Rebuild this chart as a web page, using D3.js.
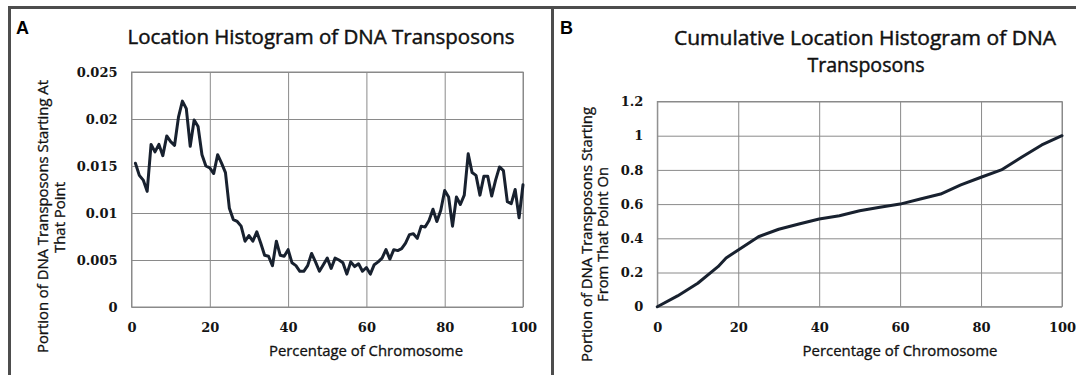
<!DOCTYPE html>
<html>
<head>
<meta charset="utf-8">
<script src="https://cdn.jsdelivr.net/npm/d3@7"></script>
<style>
  html, body { margin: 0; padding: 0; background: #fff; }
  svg { display: block; }
  .tick text { font-family: "DejaVu Serif", serif; font-weight: bold; font-size: 13px; fill: #141414; }
  .tick line { stroke: #8a8a8a; stroke-width: 1; }
  .title, .axis-title { font-family: "Open Sans", Lato, sans-serif; fill: #111; stroke: #111; }
  .title { stroke-width: 0.45; }
  .axis-title { stroke-width: 0.3; }
  .panel-label { font-family: "Liberation Sans", Arial, sans-serif; font-weight: bold; font-size: 18px; fill: #000; }
</style>
</head>
<body>
<svg id="chart" width="1076" height="375"></svg>
<script>
// panel A: portion of DNA transposons starting at each percent of the chromosome
const positionA = d3.range( 1, 101 )
const portionA = [
  0.0153, 0.0140, 0.0135, 0.0123, 0.0173, 0.0165, 0.0173, 0.0161, 0.0182, 0.0176,
  0.0172, 0.0202, 0.0219, 0.0211, 0.0171, 0.0199, 0.0192, 0.0162, 0.0150, 0.0148,
  0.0142, 0.0162, 0.0153, 0.0143, 0.0105, 0.0093, 0.0091, 0.0086, 0.0070, 0.0076,
  0.0070, 0.0080, 0.0068, 0.0055, 0.0054, 0.0044, 0.0070, 0.0055, 0.0054, 0.0061,
  0.0047, 0.0044, 0.0038, 0.0038, 0.0044, 0.0057, 0.0048, 0.0038, 0.0045, 0.0052,
  0.0041, 0.0052, 0.0050, 0.0047, 0.0035, 0.0048, 0.0043, 0.0046, 0.0038, 0.0042,
  0.0035, 0.0045, 0.0048, 0.0052, 0.0061, 0.0051, 0.0061, 0.0060, 0.0062, 0.0068,
  0.0077, 0.0078, 0.0073, 0.0086, 0.0085, 0.0092, 0.0104, 0.0091, 0.0103, 0.0124,
  0.0117, 0.0086, 0.0117, 0.0109, 0.0119, 0.0163, 0.0143, 0.0140, 0.0119, 0.0139,
  0.0139, 0.0118, 0.0135, 0.0149, 0.0145, 0.0112, 0.0110, 0.0125, 0.0095, 0.0130
]

// panel B: cumulative portion
const positionB = [ 0, 5, 10, 15, 17, 20, 25, 30, 35, 40, 45, 50, 55, 60, 65, 70, 75, 80, 85, 90, 95, 100 ]
const cumulativeB = [ 0, 0.063, 0.137, 0.234, 0.285, 0.332, 0.409, 0.453, 0.484, 0.513, 0.532,
  0.561, 0.581, 0.600, 0.630, 0.659, 0.712, 0.757, 0.800, 0.874, 0.946, 1.0 ]

const ticksX = [ 0, 20, 40, 60, 80, 100 ]
const ticksYA = [ 0, 0.005, 0.01, 0.015, 0.02, 0.025 ]
const ticksYB = [ 0, 0.2, 0.4, 0.6, 0.8, 1, 1.2 ]

const svg = d3.select( '#chart' )
const fmt = d3.format( '~g' )

svg.append( 'rect' ).attr( 'width', 1076 ).attr( 'height', 375 ).attr( 'fill', '#fff' )

function drawPanel( p ) {
    const x = d3.scaleLinear().domain( [ 0, 100 ] ).range( [ p.left, p.right ] ),
          y = d3.scaleLinear().domain( p.yDomain ).range( [ p.bottom, p.top ] ),
          w = p.right - p.left,
          h = p.bottom - p.top

    svg.append( 'g' )
        .attr( 'transform', `translate(0,${p.bottom})` )
        .call( d3.axisBottom( x ).tickValues( ticksX ).tickSize( -h ).tickPadding( 16 ).tickFormat( fmt ) )
        .call( g => g.select( '.domain' ).remove() )

    svg.append( 'g' )
        .attr( 'transform', `translate(${p.left},0)` )
        .call( d3.axisLeft( y ).tickValues( p.yTicks ).tickSize( -w ).tickPadding( 14 ).tickFormat( fmt ) )
        .call( g => g.select( '.domain' ).remove() )

    svg.append( 'rect' )
        .attr( 'x', p.left ).attr( 'y', p.top )
        .attr( 'width', w ).attr( 'height', h )
        .attr( 'fill', 'none' ).attr( 'stroke', '#8a8a8a' )

    svg.append( 'path' )
        .datum( p.xs.map( ( d, i ) => [ d, p.ys[i] ] ) )
        .attr( 'd', d3.line().x( d => x( d[0] ) ).y( d => y( d[1] ) ) )
        .attr( 'fill', 'none' )
        .attr( 'stroke', '#18212f' )
        .attr( 'stroke-width', 3 )
        .attr( 'stroke-linejoin', 'round' )
        .attr( 'stroke-linecap', 'round' )

    p.title.forEach( t =>
        svg.append( 'text' ).attr( 'class', 'title' )
            .attr( 'x', t.cx - t.len / 2 ).attr( 'y', t.y )
            .attr( 'font-size', 19.5 )
            .attr( 'textLength', t.len ).attr( 'lengthAdjust', 'spacingAndGlyphs' )
            .text( t.text ) )

    svg.append( 'text' ).attr( 'class', 'axis-title' )
        .attr( 'x', p.xTitle.cx - p.xTitle.len / 2 ).attr( 'y', 356 )
        .attr( 'font-size', 14 )
        .attr( 'textLength', p.xTitle.len ).attr( 'lengthAdjust', 'spacingAndGlyphs' )
        .text( 'Percentage of Chromosome' )

    p.yTitle.forEach( t =>
        svg.append( 'text' ).attr( 'class', 'axis-title' )
            .attr( 'transform', `translate(${t.x},${t.cy + t.len / 2}) rotate(-90)` )
            .attr( 'font-size', 14 )
            .attr( 'textLength', t.len ).attr( 'lengthAdjust', 'spacingAndGlyphs' )
            .text( t.text ) )

    svg.append( 'text' ).attr( 'class', 'panel-label' )
        .attr( 'x', p.label.x ).attr( 'y', 33.5 )
        .text( p.label.text )
}

drawPanel( {
    left: 131.5, right: 523, top: 72, bottom: 307,
    yDomain: [ 0, 0.025 ], yTicks: ticksYA,
    xs: positionA, ys: portionA,
    title: [ { text: 'Location Histogram of DNA Transposons', cx: 321, len: 387, y: 44 } ],
    xTitle: { cx: 366, len: 194 },
    yTitle: [
        { text: 'Portion of DNA Transposons Starting At', x: 48, cy: 216.5, len: 273 },
        { text: 'That Point', x: 64.5, cy: 217.5, len: 71 }
    ],
    label: { text: 'A', x: 16 }
} )

drawPanel( {
    left: 657.3, right: 1062, top: 101.5, bottom: 306.7,
    yDomain: [ 0, 1.2 ], yTicks: ticksYB,
    xs: positionB, ys: cumulativeB,
    title: [
        { text: 'Cumulative Location Histogram of DNA', cx: 865, len: 382, y: 45 },
        { text: 'Transposons', cx: 866, len: 117, y: 72 }
    ],
    xTitle: { cx: 900, len: 195 },
    yTitle: [
        { text: 'Portion of DNA Transposons Starting', x: 592, cy: 234.5, len: 255 },
        { text: 'From That Point On', x: 608, cy: 234.5, len: 135 }
    ],
    label: { text: 'B', x: 560 }
} )

// frame around the figure
const frame = [ [ [ 8, 7.5 ], [ 1076, 7.5 ] ], [ [ 9.5, 6 ], [ 9.5, 375 ] ], [ [ 552.5, 6 ], [ 552.5, 375 ] ] ]
svg.append( 'g' ).selectAll( 'path' ).data( frame ).join( 'path' )
    .attr( 'd', d3.line() )
    .attr( 'stroke', '#4d4d4d' )
    .attr( 'stroke-width', 3 )
</script>
</body>
</html>
